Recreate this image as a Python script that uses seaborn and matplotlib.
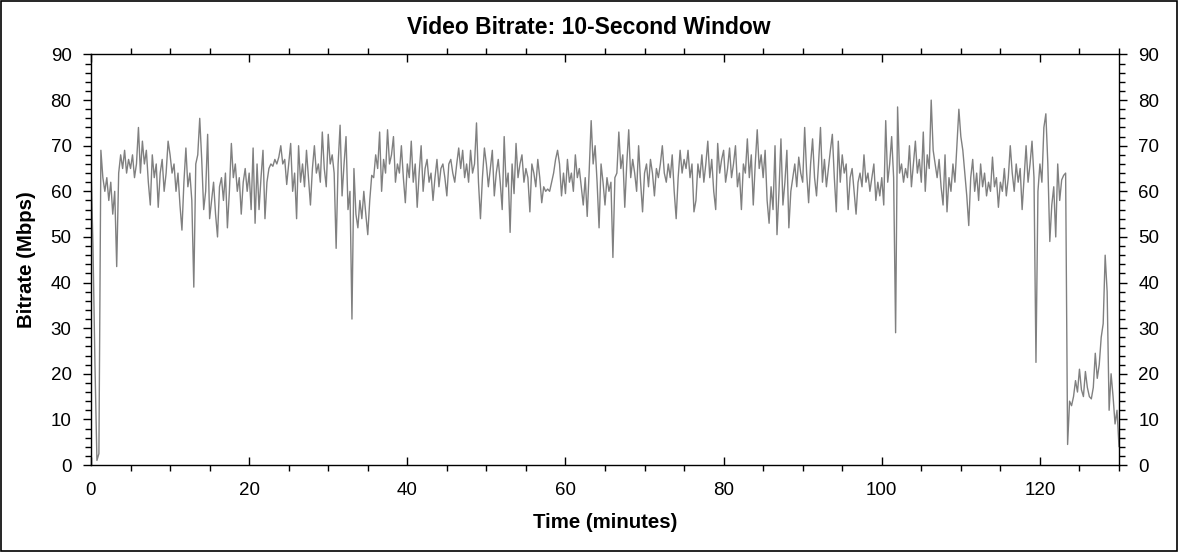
import numpy as np
import pandas as pd
import seaborn as sns
import matplotlib.pyplot as plt
from matplotlib.ticker import MultipleLocator
from matplotlib.patches import Rectangle

# bitrate samples, one every 15 s in 10-minute blocks
step_min = 0.25
block_00 = [66, 48, 22, 1, 2.5, 69, 63, 60, 63, 58, 62, 55, 60, 43.5, 64, 68, 65, 69, 64, 67,
            65, 68, 63, 66, 74, 64, 71, 66, 69, 62, 57, 68, 63, 66, 56.5, 64, 67, 60, 64, 71]
block_10 = [68, 64, 66, 60, 64, 57, 51.5, 62, 69.5, 61, 64, 58, 39, 66, 68, 76, 67, 56, 60, 72.5,
            54, 58, 62, 55, 50, 61, 63, 58, 64, 52, 60, 70.5, 63, 66, 60, 63, 55, 62, 65, 60]
block_20 = [64, 56, 69.5, 53, 66, 56, 63, 69, 54, 62, 65, 66, 65.5, 67, 66, 67.5, 70, 66, 67, 61.5,
            66, 70.5, 60, 64, 54, 70, 62, 66, 61, 69, 63, 57, 65, 70, 64, 66, 62, 73, 65, 61]
block_30 = [72.5, 66, 68, 64, 47.5, 66, 74.5, 59, 66, 72, 56, 60, 32, 65, 55, 52, 58, 54, 60, 55,
            50.5, 58, 63.5, 63, 68, 65, 73, 60, 67, 64, 73.5, 66, 68, 72, 62, 66, 64, 70, 63, 57.5]
block_40 = [66, 63, 71, 62, 66, 56.5, 64, 70, 60, 65, 67, 62, 64, 58, 63, 67, 61, 65, 66, 63,
            59, 66, 67, 64, 62, 66, 69.5, 65, 69, 63, 66, 62, 69, 64, 66, 75, 62, 54, 63, 69.5]
block_50 = [66, 61, 65, 69, 59, 64, 67, 62, 56, 72, 61, 64, 51, 66, 59.5, 70.5, 63, 66, 68, 62,
            65, 63, 55.5, 66, 64, 61, 67, 63, 57.5, 61, 60, 60.5, 60, 62, 64, 67, 69, 66, 59, 64]
block_60 = [59.5, 67, 62, 64, 60, 68, 63, 65, 61, 57, 63, 54.5, 64.5, 75.5, 66, 70, 62, 52, 66, 62,
            57, 63, 60, 62, 45.5, 63, 64, 73, 65, 68, 56.5, 66, 73.5, 63, 67, 64, 60, 70, 62, 55.5]
block_70 = [64, 66, 61, 67, 64, 59, 65, 63, 66, 70, 64, 62, 66, 63, 68, 60, 54, 63, 69, 64,
            67, 65, 69, 63, 66, 55.5, 58, 66, 63, 68, 62, 66, 71, 63, 67, 60, 56, 70.5, 64, 67]
block_80 = [69, 62, 65, 69.5, 63, 66, 70, 61, 64, 56, 66, 64, 71.5, 63, 68, 57, 66, 73.5, 65, 68,
            63, 69, 58, 53, 61, 56, 70, 50.5, 60, 71.5, 57, 62, 69, 52, 60, 63, 66, 61, 67.5, 64]
block_90 = [62, 74, 64, 57.5, 66, 71.5, 63, 59, 66, 74, 62, 67, 61, 65, 69, 72.5, 63, 55.5, 71, 62,
            68, 64, 66, 56, 63, 65, 60, 55, 62, 64, 61, 68, 62, 64, 60, 63, 66, 58, 62, 59]
block_100 = [63, 57, 75.5, 62, 66, 72, 63, 29, 78.5, 64, 66, 62, 65, 63, 70, 61, 66, 71, 64, 67,
             62, 73, 60, 68, 65, 80, 69, 66, 63, 67, 61, 57, 68, 55.5, 63, 60, 66, 62, 70, 78]
block_110 = [72, 69, 64, 59, 52.5, 63, 67, 60, 64, 58, 66, 61, 64, 59, 62, 60, 67.5, 61, 63, 56.5,
             62, 60, 65, 59, 63, 70, 64, 60, 66, 62, 65, 56, 63, 70, 62, 66, 71, 63, 22.5, 60]
block_120 = [66, 62, 74, 77, 66, 49, 57, 61, 50, 66, 58, 62.5, 63.5, 64, 4.5, 14, 13, 15, 18.5, 16,
             21, 16.5, 15, 20.5, 17, 15, 14.5, 17, 24.5, 19, 22, 28, 31, 46, 38, 12, 20, 15, 9, 12]
last_value = [4]

bitrate = (block_00 + block_10 + block_20 + block_30 + block_40 + block_50 + block_60
           + block_70 + block_80 + block_90 + block_100 + block_110 + block_120 + last_value)
df = pd.DataFrame({"minutes": np.arange(len(bitrate)) * step_min, "mbps": bitrate})

sns.set_style("ticks")
plt.rcParams["font.family"] = ["Liberation Sans", "DejaVu Sans"]
plt.rcParams["text.color"] = "black"
plt.rcParams["axes.labelcolor"] = "black"

fig = plt.figure(figsize=(11.78, 5.52), dpi=100)
ax = fig.add_axes([91 / 1178, 1 - 465 / 552, 1028 / 1178, 410.5 / 552])

sns.lineplot(data=df, x="minutes", y="mbps", ax=ax, color="#808080", linewidth=1.0)

ax.set_xlim(0, 130)
ax.set_ylim(0, 90)
ax.xaxis.set_major_locator(MultipleLocator(20))
ax.xaxis.set_minor_locator(MultipleLocator(5))
ax.yaxis.set_major_locator(MultipleLocator(10))
ax.yaxis.set_minor_locator(MultipleLocator(2))

ax.tick_params(axis="x", which="major", direction="in", length=6, width=1,
               top=True, bottom=True, labelsize=13.5, pad=12, colors="black")
ax.tick_params(axis="x", which="minor", direction="out", length=4, width=1,
               top=True, bottom=True, colors="black")
ax.tick_params(axis="y", which="major", direction="out", length=6, width=1,
               left=True, right=True, labelleft=True, labelright=True,
               labelsize=13.5, pad=8, colors="black")
ax.tick_params(axis="y", which="minor", direction="out", length=4, width=1,
               left=True, right=True, colors="black")
for s in ax.spines.values():
    s.set_color("black")
    s.set_linewidth(1)

ax.set_xlabel("Time (minutes)", fontsize=14.7, fontweight="bold")
ax.set_ylabel("Bitrate (Mbps)", fontsize=14.7, fontweight="bold")
ax.xaxis.set_label_coords(0.5, -(523 - 465) / 410.5)
ax.yaxis.set_label_coords(-(91 - 27) / 1028, 0.5)
ax.xaxis.label.set_va("center")
ax.yaxis.label.set_va("center")

fig.text(0.5, 1 - 27 / 552, "Video Bitrate: 10-Second Window", ha="center", va="center",
         fontsize=16.5, fontweight="bold")

# thin frame around the whole picture
fig.patches.append(Rectangle((0.0005, 0.001), 0.999, 0.998, transform=fig.transFigure,
                             fill=False, edgecolor="black", linewidth=1.2))

fig.savefig("out.png", dpi=100)
